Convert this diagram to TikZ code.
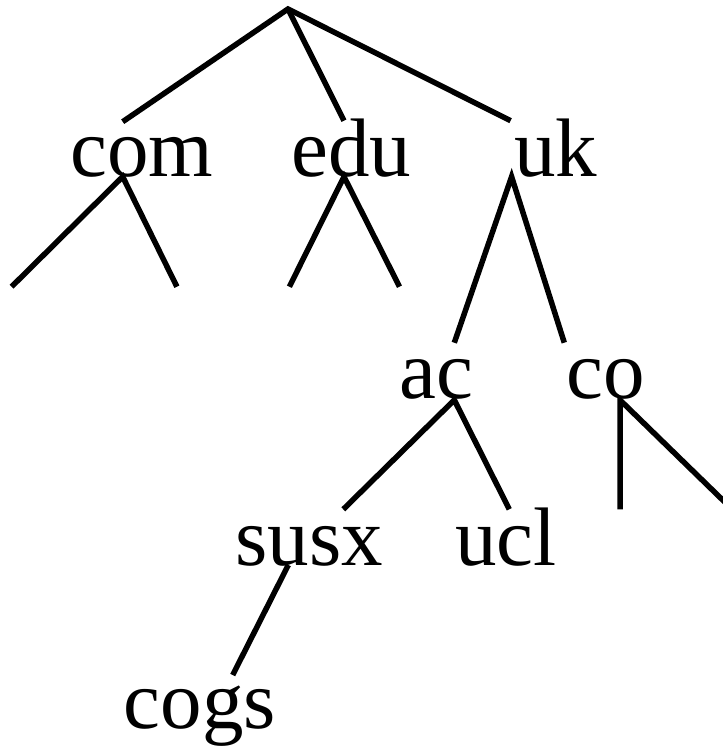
\documentclass[tikz,border=0pt]{standalone}
\usepackage{fontspec}
\setmainfont{Liberation Serif}
\begin{document}
\begin{tikzpicture}[x=1pt,y=-1pt,
  lbl/.style={anchor=base,inner sep=0pt,font=\fontsize{83}{83}\selectfont},
  edge/.style={line width=5.5pt}]
\useasboundingbox (0,0) rectangle (723,748);
% labels
\node[lbl] (com) at (141.7,176) {com};
\node[lbl] (edu) at (351.4,176) {edu};
\node[lbl] (uk) at (555.6,176) {uk};
\node[lbl] (ac) at (436.7,398) {ac};
\node[lbl] (co) at (605.8,398) {co};
\node[lbl] (susx) at (309.5,565) {susx};
\node[lbl] (ucl) at (506,565) {ucl};
\node[lbl] (cogs) at (200,728) {cogs};
% branch points and ends
\coordinate (root) at (288,9);
\coordinate (comT) at (122.7,121.7);
\coordinate (eduT) at (344,120.7);
\coordinate (ukT) at (510.6,120.7);
\coordinate (comB) at (122.7,176.7);
\coordinate (comL) at (11.6,286.7);
\coordinate (comR) at (176.9,286.7);
\coordinate (eduB) at (344,176.7);
\coordinate (eduL) at (289.4,286.7);
\coordinate (eduR) at (399.5,286.7);
\coordinate (ukB) at (511.6,176.7);
\coordinate (acT) at (454.3,342.7);
\coordinate (coT) at (564.3,342.7);
\coordinate (acB) at (454.3,400);
\coordinate (susxT) at (343.3,509.3);
\coordinate (uclT) at (509.3,509.3);
\coordinate (coB) at (620,400);
\coordinate (coL) at (620,509.3);
\coordinate (coR) at (735,512);
\coordinate (susxB) at (288.3,565);
\coordinate (cogsT) at (232.7,675);
% edges
\draw[edge] (comT) -- (root) -- (ukT);
\draw[edge] (root) -- (eduT);
\draw[edge] (comL) -- (comB) -- (comR);
\draw[edge] (eduL) -- (eduB) -- (eduR);
\draw[edge] (acT) -- (ukB) -- (coT);
\draw[edge] (susxT) -- (acB) -- (uclT);
\draw[edge] (coL) -- (coB) -- (coR);
\draw[edge] (susxB) -- (cogsT);
\end{tikzpicture}
\end{document}
